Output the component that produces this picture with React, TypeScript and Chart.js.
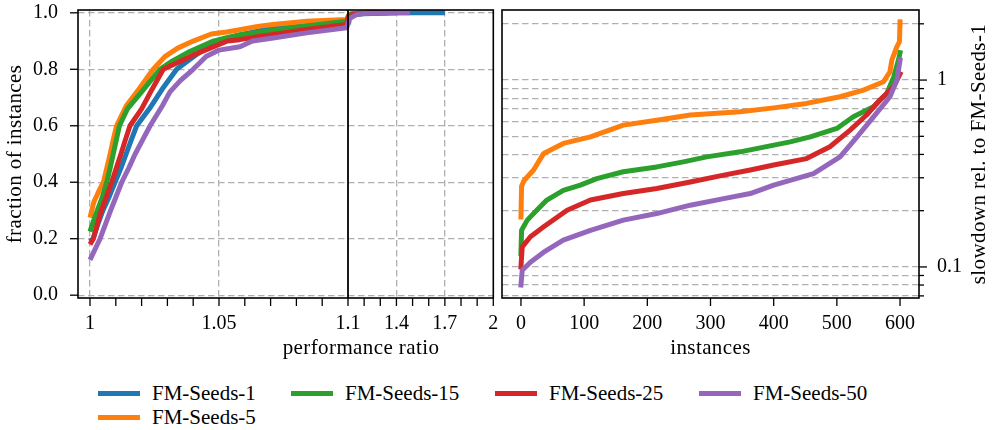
import React, { useEffect, useRef } from 'react';
import { Chart, registerables } from 'chart.js';

Chart.register(...registerables);

const FONT_FAMILY = '"Liberation Serif", "Times New Roman", serif';
const FONT_SIZE = 20;
const TITLE_SIZE = 21;

const seriesNames = ['FM-Seeds-1', 'FM-Seeds-5', 'FM-Seeds-15', 'FM-Seeds-25', 'FM-Seeds-50'];
const seriesColors = ['#1f77b4', '#ff7f0e', '#2ca02c', '#d62728', '#9467bd'];

// ---- Left panel: performance profile (ratio -> fraction of instances) ----
const ratioSeeds1 = [1.0, 1.0012, 1.003, 1.005, 1.0075, 1.0097, 1.012, 1.014, 1.016, 1.0181, 1.023, 1.028, 1.0336, 1.038, 1.044, 1.0492, 1.055, 1.06, 1.07, 1.08, 1.09, 1.1, 1.105, 1.12, 1.2, 1.4, 1.7];
const fracSeeds1 = [0.19, 0.2, 0.25, 0.3, 0.35, 0.4, 0.45, 0.5, 0.55, 0.6, 0.66, 0.73, 0.8, 0.83, 0.87, 0.9, 0.915, 0.925, 0.945, 0.955, 0.962, 0.966, 0.985, 0.993, 0.997, 1.0, 1.0];

const ratioSeeds5 = [1.0, 1.0015, 1.0035, 1.0052, 1.0065, 1.0078, 1.009, 1.0103, 1.014, 1.019, 1.0245, 1.029, 1.034, 1.04, 1.047, 1.053, 1.058, 1.065, 1.071, 1.078, 1.084, 1.0995, 1.102, 1.12, 1.2, 1.3];
const fracSeeds5 = [0.275, 0.33, 0.37, 0.4, 0.45, 0.5, 0.55, 0.6, 0.67, 0.73, 0.8, 0.845, 0.875, 0.9, 0.925, 0.932, 0.94, 0.952, 0.959, 0.965, 0.97, 0.976, 0.99, 0.997, 1.0, 1.0];

const ratioSeeds15 = [1.0, 1.002, 1.0045, 1.0065, 1.0078, 1.009, 1.0102, 1.0114, 1.0145, 1.02, 1.0271, 1.032, 1.038, 1.0478, 1.053, 1.058, 1.065, 1.071, 1.084, 1.0995, 1.102, 1.12, 1.25, 1.35];
const fracSeeds15 = [0.225, 0.28, 0.34, 0.4, 0.45, 0.5, 0.55, 0.6, 0.66, 0.72, 0.8, 0.83, 0.86, 0.9, 0.912, 0.922, 0.93, 0.938, 0.953, 0.97, 0.988, 0.996, 1.0, 1.0];

const ratioSeeds25 = [1.0, 1.0013, 1.004, 1.0084, 1.0102, 1.012, 1.0137, 1.0155, 1.02, 1.0235, 1.0284, 1.033, 1.04, 1.0533, 1.058, 1.065, 1.071, 1.084, 1.0995, 1.103, 1.13, 1.25, 1.4];
const fracSeeds25 = [0.18, 0.2, 0.29, 0.4, 0.45, 0.5, 0.55, 0.6, 0.66, 0.72, 0.8, 0.82, 0.85, 0.9, 0.905, 0.915, 0.923, 0.941, 0.959, 0.985, 0.995, 1.0, 1.0];

const ratioSeeds50 = [1.0, 1.0039, 1.008, 1.0123, 1.015, 1.0175, 1.0204, 1.0233, 1.028, 1.031, 1.035, 1.04, 1.045, 1.05, 1.0581, 1.063, 1.071, 1.084, 1.0995, 1.102, 1.11, 1.15, 1.2, 1.3, 1.485];
const fracSeeds50 = [0.125, 0.2, 0.3, 0.4, 0.45, 0.5, 0.55, 0.6, 0.67, 0.72, 0.76, 0.8, 0.845, 0.868, 0.88, 0.9, 0.911, 0.929, 0.947, 0.965, 0.98, 0.993, 0.998, 1.0, 1.0];

const profXTicks = [1, 1.01, 1.02, 1.03, 1.04, 1.05, 1.06, 1.07, 1.08, 1.09, 1.1, 1.2, 1.3, 1.4, 1.5, 1.6, 1.7, 1.8, 1.9, 2];
const profXTickLabels = ['1', '', '', '', '', '1.05', '', '', '', '', '1.1', '', '', '1.4', '', '', '1.7', '', '', '2'];
const profYTicks = [0, 0.2, 0.4, 0.6, 0.8, 1.0];
const profYTickLabels = ['0.0', '0.2', '0.4', '0.6', '0.8', '1.0'];

// ---- Right panel: slowdown relative to FM-Seeds-1 (sorted per instance) ----
const instSeeds5 = [0, 1, 5, 10, 20, 36, 67, 110, 162, 215, 268, 347, 400, 452, 505, 542, 574, 584, 587, 595, 599, 600];
const slowSeeds5 = [0.185, 0.27, 0.29, 0.303, 0.33, 0.405, 0.458, 0.497, 0.574, 0.61, 0.65, 0.676, 0.71, 0.75, 0.814, 0.884, 0.98, 1.108, 1.28, 1.51, 1.6, 2.05];

const instSeeds15 = [0, 1, 10, 25, 41, 67, 94, 120, 162, 215, 257, 294, 347, 426, 458, 500, 526, 558, 579, 590, 598, 600];
const slowSeeds15 = [0.118, 0.157, 0.178, 0.201, 0.228, 0.257, 0.274, 0.297, 0.323, 0.343, 0.365, 0.388, 0.413, 0.467, 0.497, 0.551, 0.636, 0.72, 0.848, 1.04, 1.3, 1.4];

const instSeeds25 = [0, 2, 15, 36, 73, 110, 162, 215, 268, 321, 363, 400, 452, 489, 521, 547, 568, 590, 600];
const slowSeeds25 = [0.1, 0.128, 0.145, 0.164, 0.201, 0.228, 0.247, 0.263, 0.285, 0.31, 0.33, 0.351, 0.38, 0.44, 0.54, 0.65, 0.782, 0.921, 1.08];

const instSeeds50 = [0, 2, 15, 36, 67, 110, 162, 215, 268, 321, 363, 400, 463, 505, 532, 558, 584, 595, 600];
const slowSeeds50 = [0.08, 0.096, 0.106, 0.12, 0.139, 0.157, 0.178, 0.193, 0.214, 0.232, 0.247, 0.274, 0.316, 0.388, 0.497, 0.636, 0.814, 1.0, 1.28];

const slowXTicks = [0, 100, 200, 300, 400, 500, 600];
const slowYTicks = [0.07, 0.08, 0.09, 0.1, 0.2, 0.3, 0.4, 0.5, 0.6, 0.7, 0.8, 0.9, 1, 2];
const slowYTickLabels = ['', '', '', '0.1', '', '', '', '', '', '', '', '', '1', ''];
const slowYMajor = [0.1, 1];

// broken x axis: [1, 1.1] at full scale, (1.1, 2] squeezed
const BREAK = 1.1;
const SQUEEZE = 145.3 / 0.9 / 2580;
const tx = (r: number) => (r <= BREAK ? r : BREAK + (r - BREAK) * SQUEEZE);

const GRID_COLOR = '#b0b0b0';
const NONE = 'rgba(0,0,0,0)';
const TITLE_CSS = `${TITLE_SIZE}px ${FONT_FAMILY}`;

function seg(ctx: CanvasRenderingContext2D, x1: number, y1: number, x2: number, y2: number) {
  ctx.beginPath();
  ctx.moveTo(x1, y1);
  ctx.lineTo(x2, y2);
  ctx.stroke();
}

function zeroPad(s: any) {
  s.paddingLeft = 0;
  s.paddingRight = 0;
  s.paddingTop = 0;
  s.paddingBottom = 0;
}

function titleStyle(ctx: any) {
  ctx.fillStyle = '#000';
  ctx.font = TITLE_CSS;
  ctx.textAlign = 'center';
  ctx.textBaseline = 'middle';
  try {
    ctx.letterSpacing = '0.4px';
  } catch (e) {
    /* ignore */
  }
}

const leftDecor = {
  id: 'leftDecor',
  afterDatasetsDraw(chart: any) {
    const { ctx, chartArea: a, scales } = chart;
    const xs = scales.x;
    const ys = scales.y;
    ctx.save();
    ctx.strokeStyle = '#000';
    ctx.lineWidth = 1.8;
    const bx = xs.getPixelForValue(tx(BREAK));
    seg(ctx, bx, a.top, bx, a.bottom);
    ctx.lineWidth = 1.6;
    ctx.strokeRect(a.left, a.top, a.right - a.left, a.bottom - a.top);
    ctx.lineWidth = 1.3;
    profXTicks.forEach((v) => {
      const px = xs.getPixelForValue(tx(v));
      seg(ctx, px, a.bottom, px, a.bottom + 8);
    });
    profYTicks.forEach((v) => {
      const py = ys.getPixelForValue(v);
      seg(ctx, a.left - 8, py, a.left, py);
    });
    titleStyle(ctx);
    ctx.fillText('performance ratio', 361, 348);
    ctx.translate(15, (a.top + a.bottom) / 2);
    ctx.rotate(-Math.PI / 2);
    ctx.fillText('fraction of instances', 0, 0);
    ctx.restore();
  },
};

const rightDecor = {
  id: 'rightDecor',
  afterDatasetsDraw(chart: any) {
    const { ctx, chartArea: a, scales } = chart;
    const xs = scales.x;
    const ys = scales.y;
    ctx.save();
    ctx.strokeStyle = '#000';
    ctx.lineWidth = 1.6;
    ctx.strokeRect(a.left, a.top, a.right - a.left, a.bottom - a.top);
    ctx.lineWidth = 1.3;
    slowXTicks.forEach((v) => {
      const px = xs.getPixelForValue(v);
      seg(ctx, px, a.bottom, px, a.bottom + 8);
    });
    slowYTicks.forEach((v) => {
      const py = ys.getPixelForValue(v);
      const len = slowYMajor.some((m) => Math.abs(m - v) < 1e-9) ? 8 : 5;
      seg(ctx, a.right, py, a.right + len, py);
    });
    titleStyle(ctx);
    ctx.fillText('instances', (a.left + a.right) / 2, 348);
    ctx.translate(482.5, (a.top + a.bottom) / 2);
    ctx.rotate(-Math.PI / 2);
    ctx.fillText('slowdown rel. to FM-Seeds-1', 0, 0);
    ctx.restore();
  },
};

const tickFont = { family: FONT_FAMILY, size: FONT_SIZE, lineHeight: 1 };

export default function App() {
  const leftRef = useRef<HTMLCanvasElement>(null);
  const rightRef = useRef<HTMLCanvasElement>(null);

  useEffect(() => {
    const profile = [
      { r: ratioSeeds1, f: fracSeeds1 },
      { r: ratioSeeds5, f: fracSeeds5 },
      { r: ratioSeeds15, f: fracSeeds15 },
      { r: ratioSeeds25, f: fracSeeds25 },
      { r: ratioSeeds50, f: fracSeeds50 },
    ];
    const lineStyle = {
      borderWidth: 5,
      pointRadius: 0,
      tension: 0,
      fill: false,
      borderJoinStyle: 'round' as const,
      borderCapStyle: 'butt' as const,
    };

    const left = new Chart(leftRef.current!, {
      type: 'line',
      data: {
        datasets: profile.map((s, i) => ({
          label: seriesNames[i],
          data: s.r.map((r, j) => ({ x: tx(r), y: s.f[j] })),
          borderColor: seriesColors[i],
          backgroundColor: seriesColors[i],
          order: 5 - i,
          clip: 0,
          ...lineStyle,
        })),
      },
      options: {
        animation: false,
        responsive: false,
        devicePixelRatio: 1,
        events: [],
        layout: { padding: { left: 0, top: 10, right: 6.7, bottom: 0 } },
        plugins: { legend: { display: false }, tooltip: { enabled: false } },
        scales: {
          x: {
            type: 'linear',
            min: 1 - 12 / 2580,
            max: tx(2),
            afterBuildTicks: (s: any) => {
              s.ticks = profXTicks.map((v) => ({ value: tx(v) }));
            },
            afterFit: (s: any) => {
              s.height = 64;
              zeroPad(s);
            },
            ticks: {
              autoSkip: false,
              maxRotation: 0,
              minRotation: 0,
              padding: 16,
              color: '#000',
              font: tickFont,
              callback: (_v: any, i: number) => profXTickLabels[i],
            },
            grid: {
              drawTicks: false,
              lineWidth: 1.3,
              color: (c: any) => {
                const lab = profXTickLabels[c.index];
                return lab && lab !== '1.1' && lab !== '2' ? GRID_COLOR : NONE;
              },
            },
            border: { display: false, dash: [6.5, 3.5] },
          },
          y: {
            type: 'linear',
            min: -0.01,
            max: 1.01,
            afterBuildTicks: (s: any) => {
              s.ticks = profYTicks.map((v) => ({ value: v }));
            },
            afterFit: (s: any) => {
              s.width = 78;
              zeroPad(s);
            },
            ticks: {
              autoSkip: false,
              padding: 20,
              color: '#000',
              font: tickFont,
              callback: (_v: any, i: number) => profYTickLabels[i],
            },
            grid: { drawTicks: false, lineWidth: 1.3, color: GRID_COLOR },
            border: { display: false, dash: [6.5, 3.5] },
          },
        },
      },
      plugins: [leftDecor],
    });

    const slow = [
      { x: instSeeds5, y: slowSeeds5, c: 1 },
      { x: instSeeds15, y: slowSeeds15, c: 2 },
      { x: instSeeds25, y: slowSeeds25, c: 3 },
      { x: instSeeds50, y: slowSeeds50, c: 4 },
    ];

    const right = new Chart(rightRef.current!, {
      type: 'line',
      data: {
        datasets: slow.map((s, i) => ({
          label: seriesNames[s.c],
          data: s.x.map((x, j) => ({ x, y: s.y[j] })),
          borderColor: seriesColors[s.c],
          backgroundColor: seriesColors[s.c],
          order: 4 - i,
          clip: 0,
          ...lineStyle,
          borderCapStyle: 'square' as const,
        })),
      },
      options: {
        animation: false,
        responsive: false,
        devicePixelRatio: 1,
        events: [],
        layout: { padding: { left: 5, top: 10, right: 0, bottom: 0 } },
        plugins: { legend: { display: false }, tooltip: { enabled: false } },
        scales: {
          x: {
            type: 'linear',
            min: -30,
            max: 630,
            afterBuildTicks: (s: any) => {
              s.ticks = slowXTicks.map((v) => ({ value: v }));
            },
            afterFit: (s: any) => {
              s.height = 64;
              zeroPad(s);
            },
            ticks: {
              autoSkip: false,
              maxRotation: 0,
              minRotation: 0,
              padding: 16,
              color: '#000',
              font: tickFont,
              callback: (v: any) => String(v),
            },
            grid: { drawTicks: false, drawOnChartArea: false },
            border: { display: false },
          },
          y: {
            type: 'logarithmic',
            position: 'right',
            min: 0.0682,
            max: 2.371,
            afterBuildTicks: (s: any) => {
              s.ticks = slowYTicks.map((v) => ({ value: v }));
            },
            afterFit: (s: any) => {
              s.width = 74;
              zeroPad(s);
            },
            ticks: {
              autoSkip: false,
              padding: 18,
              color: '#000',
              font: tickFont,
              callback: (_v: any, i: number) => slowYTickLabels[i],
            },
            grid: { drawTicks: false, lineWidth: 1.3, color: GRID_COLOR },
            border: { display: false, dash: [6.5, 3.5] },
          },
        },
      },
      plugins: [rightDecor],
    });

    return () => {
      left.destroy();
      right.destroy();
    };
  }, []);

  // legend laid out column-major in 4 columns, 2 rows
  const legendColX = [98, 291, 495, 699];
  const legendRowY = [393, 417];
  const legendOrder = [0, 1, 2, 3, 4];
  const legendSlots = [
    [0, 0],
    [0, 1],
    [1, 0],
    [2, 0],
    [3, 0],
  ];

  return (
    <div
      style={{
        position: 'fixed',
        left: 0,
        top: 0,
        width: 993,
        height: 430,
        background: '#fff',
        overflow: 'hidden',
      }}
    >
      <canvas
        ref={leftRef}
        width={500}
        height={362}
        style={{ position: 'absolute', left: 0, top: 0, width: 500, height: 362 }}
      />
      <canvas
        ref={rightRef}
        width={496}
        height={362}
        style={{ position: 'absolute', left: 497, top: 0, width: 496, height: 362 }}
      />
      {legendOrder.map((si, k) => {
        const [col, row] = legendSlots[k];
        return (
          <div
            key={si}
            style={{
              position: 'absolute',
              left: legendColX[col],
              top: legendRowY[row] - 12,
              height: 24,
              display: 'flex',
              alignItems: 'center',
              fontFamily: FONT_FAMILY,
              fontSize: TITLE_SIZE,
              color: '#000',
              whiteSpace: 'nowrap',
            }}
          >
            <span
              style={{
                display: 'inline-block',
                width: 42,
                height: 5,
                background: seriesColors[si],
                marginRight: 12,
              }}
            />
            <span style={{ lineHeight: '24px' }}>{seriesNames[si]}</span>
          </div>
        );
      })}
    </div>
  );
}
